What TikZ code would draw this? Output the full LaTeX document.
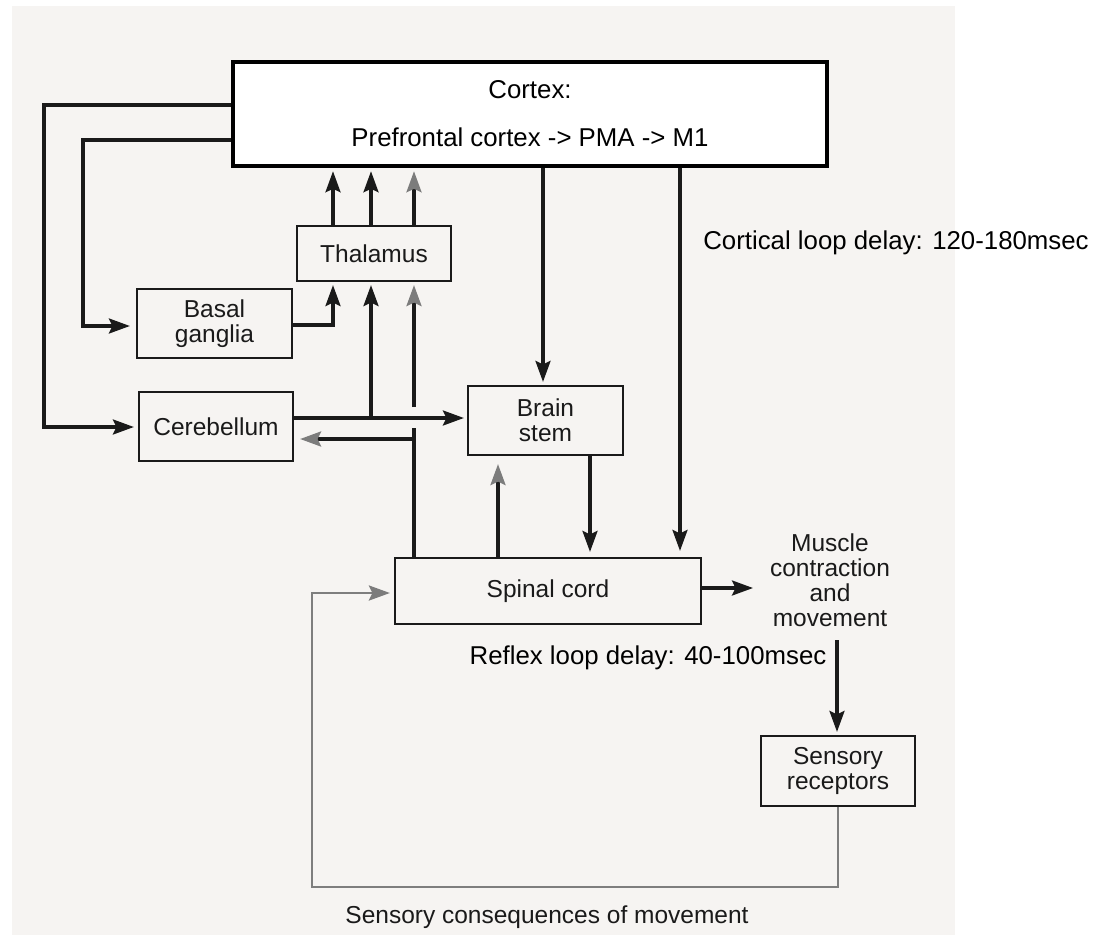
\documentclass[tikz,border=0pt]{standalone}
\usepackage{fontspec}
\setmainfont{Liberation Sans}
\usetikzlibrary{arrows.meta}
\definecolor{page}{HTML}{F6F4F2}
\definecolor{ink}{HTML}{1A1A1A}
\definecolor{grayhead}{HTML}{7C7C7C}
\definecolor{fbline}{HTML}{7E7E7E}
\newcommand{\scanfont}{\fontsize{24.5}{25}\selectfont}
\newcommand{\typefont}{\fontsize{25.8}{30}\selectfont}
\begin{document}
\begin{tikzpicture}[x=1pt,y=-1pt,
  box/.style={draw=ink, line width=2.2pt, font=\scanfont, text=ink, align=center, inner sep=0pt},
  conn/.style={draw=ink, line width=3.2pt, line join=miter},
  arr/.style={conn, -{Stealth[length=21pt,width=15pt,inset=3.5pt]}, shorten >=3pt},
  grayarr/.style={conn, -{Stealth[length=21pt,width=15pt,inset=3.5pt,color=grayhead]}, shorten >=3pt},
  fbarr/.style={draw=fbline, line width=2.8pt, line join=miter, -{Stealth[length=21pt,width=15pt,inset=3.5pt,color=grayhead]}, shorten >=4pt},
  lbl/.style={font=\typefont, text=black, inner sep=0pt},
  slbl/.style={font=\scanfont, text=ink, align=center, inner sep=0pt}]
\useasboundingbox (0,0) rectangle (1101,935);
\fill[white] (0,0) rectangle (1101,935);
\fill[page] (12,6) rectangle (955,935);

% nodes
\node[draw=black, line width=4.5pt, fill=white, minimum width=594pt, minimum height=104pt,
      align=center, font=\fontsize{25.8}{48}\selectfont, inner sep=0pt] (cortex) at (530,114)
      {Cortex:\\Prefrontal cortex -> PMA -> M1};
\node[box, minimum width=154pt, minimum height=55pt] (thal) at (374,253.5) {Thalamus};
\node[box, minimum width=155pt, minimum height=69pt] (bg) at (214.5,323.5) {Basal\\ganglia};
\node[box, minimum width=154pt, minimum height=69pt] (cereb) at (216,426.5) {Cerebellum};
\node[box, minimum width=155pt, minimum height=69pt] (bstem) at (545.5,420.5) {Brain\\stem};
\node[box, minimum width=306pt, minimum height=66pt] (spinal) at (548,591) {Spinal cord};
\node[box, minimum width=154pt, minimum height=70pt] (sensory) at (838,771) {Sensory\\receptors};
\node[slbl] (muscle) at (830,580) {Muscle\\contraction\\and\\movement};
\node[lbl] (cortical) at (896,243) {Cortical loop delay: 120-180msec};
\node[lbl] (reflex) at (648,658) {Reflex loop delay: 40-100msec};
\node[slbl] (conseq) at (547,917) {Sensory consequences of movement};

% helper coordinates
\coordinate (oL1) at (44,105);
\coordinate (oL2) at (44,427);
\coordinate (iL1) at (83,140);
\coordinate (iL2) at (83,326);
\coordinate (bt) at (333,325);
\coordinate (xa) at (333,0);
\coordinate (xm) at (371,0);
\coordinate (xg) at (414,0);
\coordinate (cb) at (0,418);
\coordinate (j1) at (371,418);
\coordinate (g1) at (414,428);
\coordinate (g2) at (414,407);
\coordinate (j2) at (414,439);
\coordinate (xb) at (543,0);
\coordinate (xc) at (680,0);
\coordinate (xd) at (590,0);
\coordinate (xe) at (498,0);
\coordinate (mm) at (753,588);
\coordinate (ms) at (837,640);
\coordinate (f1) at (838,887);
\coordinate (f2) at (312,887);
\coordinate (f3) at (312,593);

% connectors
\draw[arr, shorten >=4pt] (cortex.west |- oL1) -- (oL1) -- (oL2) -- (oL2 -| cereb.west);
\draw[arr, shorten >=6pt] (cortex.west |- iL1) -- (iL1) -- (iL2) -- (iL2 -| bg.west);
\draw[arr] (bg.east |- bt) -- (bt) -- (bt |- thal.south);
\draw[arr] (thal.north -| xa) -- (cortex.south -| xa);
\draw[arr] (thal.north -| xm) -- (cortex.south -| xm);
\draw[grayarr] (thal.north -| xg) -- (cortex.south -| xg);
\draw[arr] (cereb.east |- cb) -- (bstem.west |- cb);
\draw[arr] (j1) -- (j1 |- thal.south);
\draw[conn] (spinal.north -| g1) -- (g1);
\draw[grayarr] (g2) -- (g2 |- thal.south);
\draw[grayarr, shorten >=6pt] (j2) -- (j2 -| cereb.east);
\draw[arr] (cortex.south -| xb) -- (bstem.north -| xb);
\draw[arr, shorten >=6pt] (cortex.south -| xc) -- (spinal.north -| xc);
\draw[arr, shorten >=5pt] (bstem.south -| xd) -- (spinal.north -| xd);
\draw[grayarr, shorten >=8pt] (spinal.north -| xe) -- (bstem.south -| xe);
\draw[arr, shorten >=0pt] (spinal.east |- mm) -- (mm);
\draw[arr] (ms) -- (ms |- sensory.north);
\draw[fbarr] (sensory.south -| f1) -- (f1) -- (f2) -- (f3) -- (f3 -| spinal.west);
\end{tikzpicture}
\end{document}
